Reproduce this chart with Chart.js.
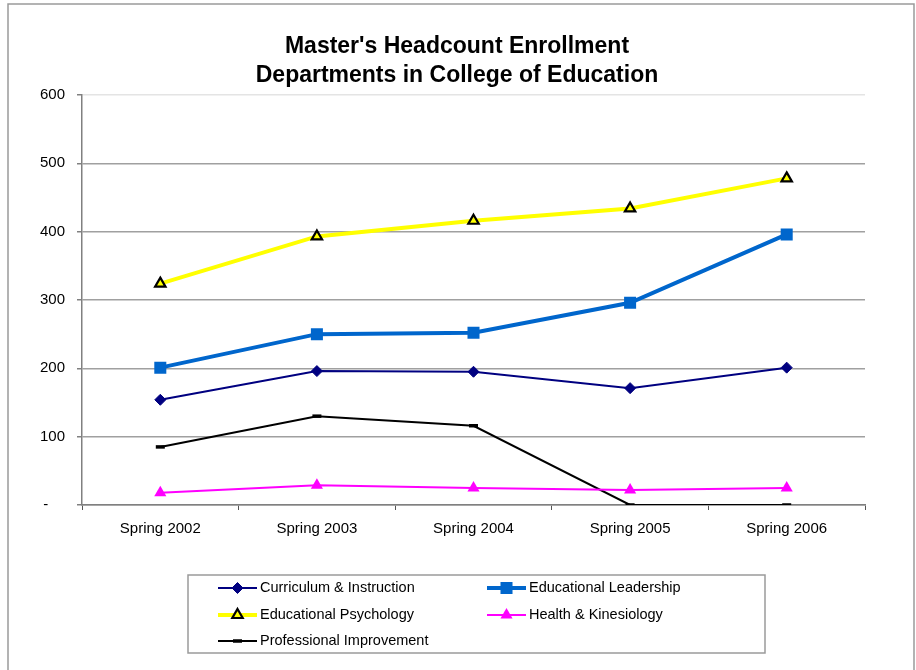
<!DOCTYPE html>
<html>
<head>
<meta charset="utf-8">
<script src="https://cdn.jsdelivr.net/npm/chart.js@4.4.0/dist/chart.umd.min.js"></script>
<style>
  html, body { margin: 0; padding: 0; background: #fff; }
  canvas { display: block; }
</style>
</head>
<body>
<canvas id="enrollChart" width="916" height="670"></canvas>
<script>
// data
const semesters = ['Spring 2002', 'Spring 2003', 'Spring 2004', 'Spring 2005', 'Spring 2006'];
const curriculumInstruction = [154, 196, 195, 171, 201];
const educationalLeadership = [201, 250, 252, 296, 396];
const educationalPsychology = [324, 393, 416, 434, 478];
const healthKinesiology = [18, 29, 25, 22, 25];
const professionalImprovement = [85, 130, 116, 0, 0];
const yMax = 600;
const yStep = 100;
const titleLines = ["Master's Headcount Enrollment", 'Departments in College of Education'];

const FONT = '"Liberation Sans", Arial, sans-serif';

// outer frame + title
const framePlugin = {
  id: 'frame',
  beforeDraw(chart) {
    const c = chart.ctx;
    c.save();
    c.fillStyle = '#fff';
    c.fillRect(0, 0, chart.width, chart.height);
    c.strokeStyle = '#9a9a9a';
    c.lineWidth = 1.5;
    c.beginPath();
    c.moveTo(8, chart.height);
    c.lineTo(8, 4);
    c.lineTo(914, 4);
    c.lineTo(914, chart.height);
    c.stroke();
    c.fillStyle = '#000';
    c.font = 'bold 23px ' + FONT;
    c.textAlign = 'center';
    c.textBaseline = 'alphabetic';
    c.fillText(titleLines[0], 457, 53);
    c.fillText(titleLines[1], 457, 82);
    c.restore();
  }
};

// legend box like the excel one: 2 columns, line + marker samples
const legendPlugin = {
  id: 'boxLegend',
  afterDraw(chart) {
    const c = chart.ctx;
    const box = { x: 188, y: 575, w: 577, h: 78 };
    const cols = [218, 487];
    const rows = [588, 615, 641];
    c.save();
    c.strokeStyle = '#9a9a9a';
    c.lineWidth = 1.5;
    c.strokeRect(box.x, box.y, box.w, box.h);
    chart.data.datasets.forEach((ds, i) => {
      const x = cols[i % 2];
      const y = rows[Math.floor(i / 2)];
      c.strokeStyle = ds.borderColor;
      c.lineWidth = ds.borderWidth;
      c.beginPath();
      c.moveTo(x, y);
      c.lineTo(x + 39, y);
      c.stroke();
      c.fillStyle = ds.pointBackgroundColor;
      c.strokeStyle = ds.pointBorderColor;
      c.lineWidth = ds.pointBorderWidth;
      Chart.helpers.drawPoint(c, {
        pointStyle: ds.pointStyle,
        radius: ds.pointRadius,
        borderWidth: ds.pointBorderWidth,
        rotation: 0
      }, x + 19.5, y);
      c.fillStyle = '#000';
      c.font = '14.5px ' + FONT;
      c.textAlign = 'left';
      c.textBaseline = 'middle';
      c.fillText(ds.label, x + 42, y);
    });
    c.restore();
  }
};

const datasets = [
  {
    label: 'Curriculum & Instruction',
    data: curriculumInstruction,
    borderColor: '#000080',
    borderWidth: 2,
    pointStyle: 'rectRot',
    pointRadius: 5.5,
    pointBackgroundColor: '#000080',
    pointBorderColor: '#000080',
    pointBorderWidth: 1
  },
  {
    label: 'Educational Leadership',
    data: educationalLeadership,
    borderColor: '#0066cc',
    borderWidth: 4,
    pointStyle: 'rect',
    pointRadius: 8.5,
    pointBackgroundColor: '#0066cc',
    pointBorderColor: '#0066cc',
    pointBorderWidth: 0
  },
  {
    label: 'Educational Psychology',
    data: educationalPsychology,
    borderColor: '#ffff00',
    borderWidth: 4,
    pointStyle: 'triangle',
    pointRadius: 6,
    pointBackgroundColor: '#ffff00',
    pointBorderColor: '#000',
    pointBorderWidth: 2.2
  },
  {
    label: 'Health & Kinesiology',
    data: healthKinesiology,
    borderColor: '#ff00ff',
    borderWidth: 2,
    pointStyle: 'triangle',
    pointRadius: 7,
    pointBackgroundColor: '#ff00ff',
    pointBorderColor: '#ff00ff',
    pointBorderWidth: 0
  },
  {
    label: 'Professional Improvement',
    data: professionalImprovement,
    borderColor: '#000',
    borderWidth: 2,
    pointStyle: 'line',
    pointRadius: 4.5,
    pointBackgroundColor: '#000',
    pointBorderColor: '#000',
    pointBorderWidth: 3.5
  }
];
datasets.forEach(d => { d.tension = 0; d.fill = false; d.pointHoverRadius = d.pointRadius; });

new Chart(document.getElementById('enrollChart').getContext('2d'), {
  type: 'line',
  data: { labels: semesters, datasets: datasets },
  options: {
    responsive: false,
    animation: false,
    devicePixelRatio: 1,
    layout: { padding: { left: 8, right: 51, top: 95, bottom: 125 } },
    plugins: {
      legend: { display: false },
      title: { display: false },
      tooltip: { enabled: false }
    },
    scales: {
      x: {
        offset: true,
        afterFit(scale) { scale.height = 40; },
        border: { color: '#808080', width: 1.5 },
        grid: {
          offset: true,
          drawOnChartArea: false,
          tickLength: 5,
          color: '#555'
        },
        ticks: { color: '#000', font: { family: FONT, size: 15 }, padding: 10, maxRotation: 0 }
      },
      y: {
        min: 0,
        max: yMax,
        afterFit(scale) { scale.width = 74; },
        border: { color: '#808080', width: 1.5 },
        grid: {
          color: ctx => (ctx.tick && ctx.tick.value === yMax) ? '#e4e4e4' : '#a0a0a0',
          lineWidth: 1.5,
          tickLength: 5,
          tickColor: '#808080'
        },
        ticks: {
          stepSize: yStep,
          color: '#000',
          font: { family: FONT, size: 15 },
          padding: 12,
          callback: v => v === 0 ? '-    ' : v
        }
      }
    }
  },
  plugins: [framePlugin, legendPlugin]
});
</script>
</body>
</html>
